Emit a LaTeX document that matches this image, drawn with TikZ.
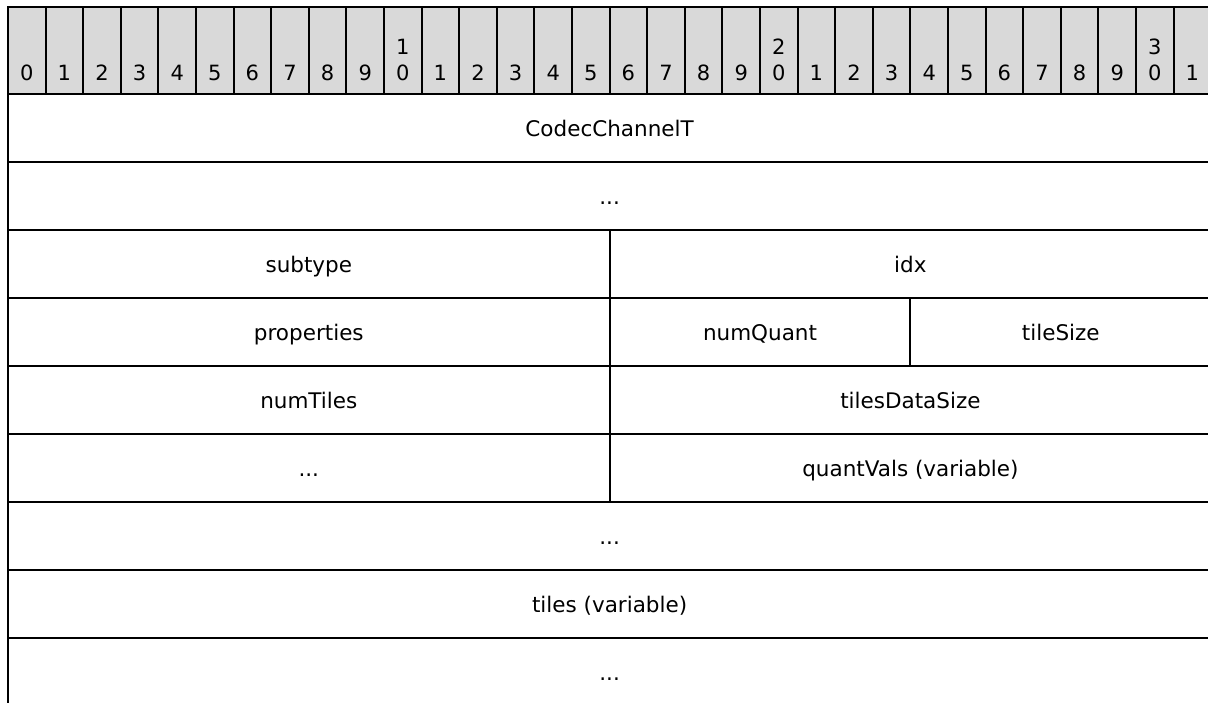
\documentclass[tikz,border=0pt]{standalone}
\usepackage{fontspec}
\setmainfont{DejaVu Sans}
\definecolor{headgray}{HTML}{D9D9D9}
\newcommand\bitfield[5]{% name, first bit, end bit, row, text
  \node[cell, minimum width={(#3-#2)*37.6pt}, minimum height=68pt]
    (#1) at ({8+37.6*#2},{94+68*#4}) {#5};}
\begin{document}
\begin{tikzpicture}[x=1pt,y=-1pt,
  cell/.style={draw=black, line width=2pt, inner sep=0pt, outer sep=0pt,
    anchor=north west, font=\fontsize{21.5}{26}\selectfont, text=black,
    text height=17pt, text depth=0pt},
  bitcell/.style={cell, fill=headgray},
  digit/.style={inner sep=0pt, font=\fontsize{21}{26}\selectfont, text=black,
    text height=15pt, text depth=0pt}]
\useasboundingbox (0,0) rectangle (1208,702);
\clip (0,0) rectangle (1208,702);
% bit-number header
\foreach \k in {0,...,31} {
  \pgfmathtruncatemacro\unitdig{mod(\k,10)}
  \pgfmathtruncatemacro\tensdig{\k/10}
  \node[bitcell, minimum width=37.6pt, minimum height=87pt] (bit\k) at ({8+37.6*\k},7) {};
  \node[digit] (u\k) at ({8+37.6*(\k+0.5)},73) {\unitdig};
  \ifnum\unitdig=0 \ifnum\k>0
    \node[digit] (t\k) at ({8+37.6*(\k+0.5)},46.5) {\tensdig};
  \fi\fi
}
% packet fields
\bitfield{codec}{0}{32}{0}{CodecChannelT}
\bitfield{gapA}{0}{32}{1}{...}
\bitfield{subtype}{0}{16}{2}{subtype}
\bitfield{idx}{16}{32}{2}{idx}
\bitfield{props}{0}{16}{3}{properties}
\bitfield{numquant}{16}{24}{3}{numQuant}
\bitfield{tilesize}{24}{32}{3}{tileSize}
\bitfield{numtiles}{0}{16}{4}{numTiles}
\bitfield{tdsize}{16}{32}{4}{tilesDataSize}
\bitfield{gapB}{0}{16}{5}{...}
\bitfield{quantvals}{16}{32}{5}{quantVals (variable)}
\bitfield{gapC}{0}{32}{6}{...}
\bitfield{tiles}{0}{32}{7}{tiles (variable)}
\bitfield{gapD}{0}{32}{8}{...}
\end{tikzpicture}
\end{document}
